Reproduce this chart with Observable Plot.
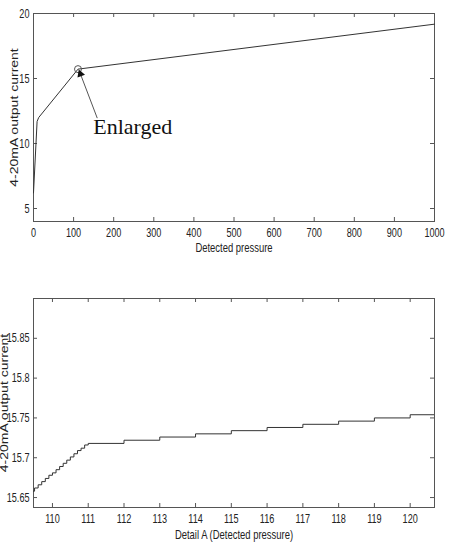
<!DOCTYPE html>
<html>
<head>
<meta charset="utf-8">
<script src="https://cdn.jsdelivr.net/npm/d3@7"></script>
<script src="https://cdn.jsdelivr.net/npm/@observablehq/plot@0.6"></script>
<style>
  html, body { margin: 0; padding: 0; background: #fff; }
  #chart svg { display: block; }
</style>
</head>
<body>
<div id="chart"></div>
<script>
// ---- Top chart data: 4-20mA output vs detected pressure ----
const pressure = [0, 9, 13, 111, 1000];
const current  = [6.2, 11.7, 12.0, 15.72, 19.18];
const topXTicks = [0, 100, 200, 300, 400, 500, 600, 700, 800, 900, 1000];
const topYTicks = [5, 10, 15, 20];

// annotation ("Enlarged" callout) in data units
const circlePoint = [111, 15.72];
const arrowFrom = [159, 11.95];
const arrowTo = [117, 15.35];
const noteText = "Enlarged";
const notePos = [149, 11.25];

// ---- Bottom chart data: Detail A (stepped) ----
const detailX = [109.4, 109.5, 109.6, 109.7, 109.8, 109.9, 110.0, 110.1, 110.2, 110.3,
                 110.4, 110.5, 110.6, 110.7, 110.8, 110.9, 111, 112, 113, 114,
                 115, 116, 117, 118, 119, 120, 121];
const detailY = [15.658, 15.662, 15.666, 15.670, 15.674, 15.678, 15.681, 15.685, 15.689, 15.693,
                 15.697, 15.701, 15.705, 15.709, 15.712, 15.716, 15.718, 15.722, 15.726, 15.730,
                 15.734, 15.738, 15.742, 15.746, 15.750, 15.754, 15.754];
const botXTicks = [110, 111, 112, 113, 114, 115, 116, 117, 118, 119, 120];
const botYTicks = [15.65, 15.7, 15.75, 15.8, 15.85];

const yLabel = "4-20mA output current";
const topXLabel = "Detected pressure";
const botXLabel = "Detail A (Detected pressure)";

const FONT = "'Liberation Sans', Arial, sans-serif";
const AX = "#555";
const W = 450, ML = 33, MR = 16;
const innerW = W - ML - MR;

function innerTicks(xt, yt, innerH) {
  return [
    Plot.tickX(xt, {x: d => d, insetTop: innerH - 4, stroke: AX}),
    Plot.tickX(xt, {x: d => d, insetBottom: innerH - 4, stroke: AX}),
    Plot.tickY(yt, {y: d => d, insetRight: innerW - 4, stroke: AX}),
    Plot.tickY(yt, {y: d => d, insetLeft: innerW - 4, stroke: AX})
  ];
}

// ---------- Top chart ----------
const H1 = 270, MT1 = 13, MB1 = 49;
const topData = pressure.map((p, i) => ({p, c: current[i]}));
const chartTop = Plot.plot({
  width: W, height: H1,
  marginLeft: ML, marginRight: MR, marginTop: MT1, marginBottom: MB1,
  style: {fontFamily: FONT, fontSize: "13px", color: "#222", background: "#fff"},
  x: {domain: [0, 1000], ticks: topXTicks, tickSize: 0, tickPadding: 6, label: null, tickFormat: d => `${d}`},
  y: {domain: [4, 20], ticks: topYTicks, tickSize: 0, tickPadding: 4, label: null, tickFormat: d => `${d}`},
  marks: [
    Plot.frame({stroke: AX}),
    ...innerTicks(topXTicks, topYTicks, H1 - MT1 - MB1),
    Plot.line(topData, {x: "p", y: "c", stroke: "#333", strokeWidth: 1}),
    Plot.dot([circlePoint], {x: d => d[0], y: d => d[1], r: 3.5, stroke: "#555", fill: "none", strokeWidth: 1}),
    Plot.link([[arrowFrom, arrowTo]], {x1: d => d[0][0], y1: d => d[0][1], x2: d => d[1][0], y2: d => d[1][1], stroke: "#555", strokeWidth: 1}),
    Plot.dot([arrowTo], {x: d => d[0], y: d => d[1], symbol: "triangle", r: 3, fill: "#111", stroke: "none", rotate: -21}),
    Plot.text([noteText], {x: notePos[0], y: notePos[1], text: d => d, textAnchor: "start", fontFamily: "'Liberation Serif', 'Times New Roman', serif", fontSize: 22, fill: "#111"}),
    Plot.text([yLabel], {frameAnchor: "left", dx: -19, rotate: -90, textAnchor: "middle", text: d => d, fontSize: 10, fill: "#222"}),
    Plot.text([topXLabel], {frameAnchor: "bottom", dy: 30, textAnchor: "middle", text: d => d, fontSize: 13.5, fill: "#222"})
  ]
});

// ---------- Bottom chart ----------
const H2 = 278, MT2 = 28, MB2 = 41;
const botData = detailX.map((x, i) => ({x, y: detailY[i]}));
const chartBottom = Plot.plot({
  width: W, height: H2,
  marginLeft: ML, marginRight: MR, marginTop: MT2, marginBottom: MB2,
  style: {fontFamily: FONT, fontSize: "13px", color: "#222", background: "#fff"},
  x: {domain: [109.47, 120.68], ticks: botXTicks, tickSize: 0, tickPadding: 6, label: null, tickFormat: d => `${d}`},
  y: {domain: [15.6375, 15.90], ticks: botYTicks, tickSize: 0, tickPadding: 4, label: null, tickFormat: d => `${d}`},
  marks: [
    Plot.frame({stroke: AX}),
    ...innerTicks(botXTicks, botYTicks, H2 - MT2 - MB2),
    Plot.line(botData, {x: "x", y: "y", curve: "step-after", stroke: "#333", strokeWidth: 1, clip: true}),
    Plot.text([yLabel], {frameAnchor: "left", dx: -29, rotate: -90, textAnchor: "middle", text: d => d, fontSize: 10, fill: "#222"}),
    Plot.text([botXLabel], {frameAnchor: "bottom", dy: 31, textAnchor: "middle", text: d => d, fontSize: 13.5, fill: "#222"})
  ]
});

document.getElementById("chart").append(chartTop, chartBottom);

// Condensed sans look of the original: horizontal texts are narrowed,
// the rotated labels are stretched along their baseline (small glyph height, long run).
// Anchoring is redone by hand with a start anchor so the adjusted run stays in place.
for (const svg of [chartTop, chartBottom]) {
  d3.select(svg).selectAll("text").each(function () {
    if (this.textContent === noteText) return;
    const rotated = /rotate/.test(this.getAttribute("transform") || "");
    const len = this.getComputedTextLength();
    if (!(len > 0)) return;
    const anchor = getComputedStyle(this).textAnchor;
    const adj = len * (rotated ? 1.4 : 0.7);
    const shift = anchor === "middle" ? -adj / 2 : anchor === "end" ? -adj : 0;
    const dx0 = parseFloat(this.getAttribute("dx")) || 0;
    this.style.textAnchor = "start";
    this.setAttribute("dx", (dx0 + shift).toFixed(2));
    this.setAttribute("textLength", adj.toFixed(2));
    this.setAttribute("lengthAdjust", "spacingAndGlyphs");
  });
}
</script>
</body>
</html>
